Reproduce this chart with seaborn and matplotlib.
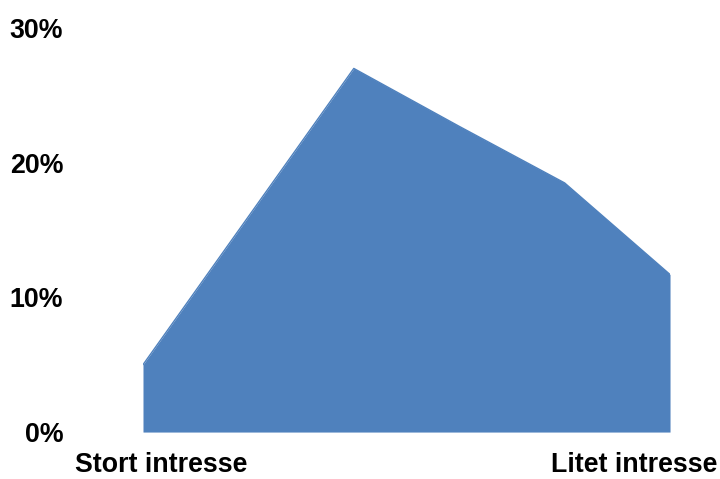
import matplotlib
matplotlib.use("Agg")
import matplotlib.pyplot as plt
import seaborn as sns
import pandas as pd

# Share of respondents along the interest scale (1 = great interest, 6 = little interest)
steps = [1, 2, 3, 4, 5, 6]
shares = [0.050, 0.160, 0.270, 0.227, 0.185, 0.117]
y_ticks = [0.0, 0.10, 0.20, 0.30]
y_tick_labels = ["0%", "10%", "20%", "30%"]
end_labels = ["Stort intresse", "Litet intresse"]

sns.set_theme(style="white")
plt.rcParams["font.family"] = ["Liberation Sans", "DejaVu Sans"]

df = pd.DataFrame({"steg": steps, "andel": shares})
fill_color = "#4F81BD"
label_size = 19.3

fig = plt.figure(figsize=(7.2, 4.79), dpi=100)
ax = fig.add_axes([0.1986, 0.098, 0.7320, 0.8435])

sns.lineplot(data=df, x="steg", y="andel", color=fill_color, linewidth=1.0, ax=ax)
ax.fill_between(df["steg"], 0, df["andel"], color=fill_color, linewidth=0)

ax.set_xlim(steps[0], steps[-1])
ax.set_ylim(0, 0.30)
ax.set_yticks(y_ticks)
ax.set_yticklabels(y_tick_labels, fontsize=label_size, fontweight="bold", color="black")
ax.set_xticks([])
ax.set_xlabel("")
ax.set_ylabel("")
ax.tick_params(axis="y", length=0, pad=57.5)
for side in ax.spines.values():
    side.set_visible(False)

fig.text(75 / 720, 1 - 472.5 / 479, end_labels[0], ha="left", va="baseline",
         fontsize=label_size, fontweight="bold", color="black")
fig.text(717 / 720, 1 - 472.5 / 479, end_labels[1], ha="right", va="baseline",
         fontsize=label_size, fontweight="bold", color="black")

fig.savefig("out.png", dpi=100, facecolor="white")
